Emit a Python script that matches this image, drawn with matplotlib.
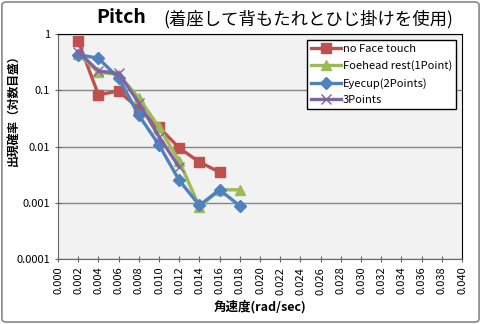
import numpy as np
import matplotlib
matplotlib.use('Agg')
from matplotlib import pyplot as plt
from matplotlib.patches import FancyBboxPatch

plt.rcParams['font.family'] = ['Noto Sans CJK JP', 'DejaVu Sans']

x_red = [0.002, 0.004, 0.006, 0.008, 0.010, 0.012, 0.014, 0.016]
no_face = [0.75, 0.083, 0.097, 0.047, 0.022, 0.0094, 0.0053, 0.0035]

x_green = [0.002, 0.004, 0.006, 0.008, 0.010, 0.012, 0.014, 0.016, 0.018]
forehead = [0.44, 0.21, 0.19, 0.073, 0.022, 0.0055, 0.00085, 0.0017, 0.0017]

x_blue = [0.002, 0.004, 0.006, 0.008, 0.010, 0.012, 0.014, 0.016, 0.018]
eyecup = [0.43, 0.37, 0.165, 0.036, 0.0107, 0.0025, 0.0009, 0.0017, 0.00088]

x_purple = [0.002, 0.004, 0.006, 0.008, 0.010, 0.012]
three_pts = [0.48, 0.22, 0.2, 0.06, 0.015, 0.0043]

xticks = np.arange(0, 0.0401, 0.002)
yticks = [1, 0.1, 0.01, 0.001, 0.0001]
ytick_labels = ['1', '0.1', '0.01', '0.001', '0.0001']

fig = plt.figure(figsize=(4.81, 3.24), dpi=100)
fig.patches.append(FancyBboxPatch((0.004, 0.006), 0.992, 0.988, boxstyle='round,pad=0,rounding_size=0.01',
                                  transform=fig.transFigure, fc='none', ec='#888888', lw=1.2, zorder=-1))
ax = fig.add_axes([0.1206, 0.2006, 0.8399, 0.6944])
ax.set_facecolor('#f2f2f2')

ax.plot(x_red, no_face, color='#C0504D', lw=2.4, marker='s', ms=7, label='no Face touch', zorder=3)
ax.plot(x_green, forehead, color='#9BBB59', lw=2.4, marker='^', ms=7, label='Foehead rest(1Point)', zorder=3)
ax.plot(x_blue, eyecup, color='#4F81BD', lw=2.4, marker='D', ms=6, label='Eyecup(2Points)', zorder=4)
ax.plot(x_purple, three_pts, color='#8064A2', lw=2.4, marker='x', ms=7, mew=1, label='3Points', zorder=4)

ax.set_yscale('log')
ax.set_ylim(0.0001, 1)
ax.set_xlim(0, 0.04)
ax.set_yticks(yticks)
ax.set_yticklabels(ytick_labels)
ax.minorticks_off()
ax.set_xticks(xticks)
ax.set_xticklabels(['%.3f' % t for t in xticks], rotation=90)
ax.tick_params(labelsize=8, length=4, color='#666666', direction='inout')
ax.yaxis.grid(True, color='#868686', lw=1)
ax.set_axisbelow(True)
for s in ['top', 'right']:
    ax.spines[s].set_color('black')
for s in ['left', 'bottom']:
    ax.spines[s].set_color('#666666')

ax.set_xlabel('角速度(rad/sec)', fontsize=9, fontweight='bold', labelpad=4)
fig.text(13 / 481, 1 - 107 / 324, '出現確率（対数目盛）', fontsize=8.5, fontweight='bold',
         rotation=90, ha='center', va='center')

leg = ax.legend(loc='upper right', bbox_to_anchor=(0.985, 0.975), fontsize=8, frameon=True, fancybox=False,
                edgecolor='black', framealpha=1, borderpad=0.35, labelspacing=0.6, handlelength=2.7,
                handletextpad=0.2, borderaxespad=0)
leg.get_frame().set_linewidth(1)

fig.text(0.200, 0.945, 'Pitch', fontsize=14, fontweight='bold', ha='left', va='center')
fig.text(0.340, 0.942, '(着座して背もたれとひじ掛けを使用)', fontsize=12.5, ha='left', va='center')

fig.savefig('out.png', dpi=100)
